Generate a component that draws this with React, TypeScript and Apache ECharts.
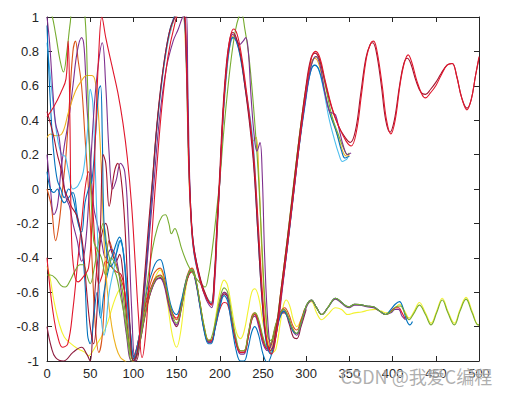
import React, { useEffect, useRef } from "react";
import * as echarts from "echarts";

// ---- axis settings ----
const xMin = 0, xMax = 500, xStep = 50;
const yMin = -1, yMax = 1, yStep = 0.2;
const watermark = "CSDN @我爱C编程";

// ---- series data: [x, y] points ----
const redFull: number[][] = [[0,0.42],[8,0.48],[16,0.56],[22,0.64],[24.5,0.86],[26.5,0.4],[28.5,-0.3],[32,-0.5],[36,-0.54],[42,-0.51],[48,-0.46],[52,-0.2],[56,0.3],[60,0.8],[63.5,1.0],[68,0.88],[75,0.72],[82,0.56],[88,0.38],[93,0.18],[98,-0.1],[102,-0.42],[106,-0.75],[110,-0.98],[114,-0.85],[118,-0.55],[123,-0.15],[127,0.12],[133,0.48],[140,0.77],[147,0.94],[153,1.02],[159,1.02],[161.5,0.7],[164,0.15],[166.5,-0.15],[170,-0.36],[178,-0.55],[185,-0.64],[190.5,-0.675],[194,-0.52],[197,-0.22],[200,0.05],[204,0.45],[208,0.72],[212,0.88],[216,0.93],[220,0.9],[225,0.78],[230,0.6],[235,0.4],[240,0.15],[245,-0.25],[250,-0.65],[255,-0.9],[260,-0.96],[266,-0.82],[272,-0.58],[279,-0.3],[286,0.0],[293,0.3],[300,0.58],[306,0.76],[311,0.8],[316,0.76],[322,0.63],[330,0.47],[338,0.36],[346,0.28],[352,0.25],[358,0.33],[364,0.55],[370,0.77],[375,0.85],[378,0.86],[382,0.8],[388,0.6],[393,0.4],[398,0.32],[403,0.4],[409,0.62],[414,0.74],[418,0.78],[422,0.74],[428,0.63],[434,0.55],[438,0.53],[444,0.56],[450,0.6],[456,0.66],[463,0.72],[469,0.73],[474,0.66],[480,0.53],[486,0.46],[491,0.52],[496,0.66],[500,0.77]];

const darkRedFull: number[][] = [[0,0.45],[4,0.38],[8,0.3],[12,0.2],[16,0.12],[20,0.0],[24,-0.05],[28,-0.1],[34,-0.15],[38,-0.22],[42,-0.35],[46,-0.6],[50,-0.8],[54,-0.9],[58,-0.7],[62,-0.2],[65,0.2],[68,0.15],[72,-0.1],[78,0.1],[82,0.15],[86,0.05],[90,-0.2],[95,-0.7],[100,-1.0],[104,-0.96],[108,-0.8],[113,-0.5],[118,-0.18],[122,0.05],[128,0.42],[135,0.72],[142,0.92],[148,1.0],[152,1.03],[157,1.03],[161,0.8],[164,0.2],[166.5,-0.12],[170,-0.34],[178,-0.53],[185,-0.63],[190,-0.67],[193.5,-0.52],[196.5,-0.22],[199.5,0.05],[203.5,0.45],[207.5,0.72],[211.5,0.87],[215,0.91],[219,0.88],[224,0.78],[229,0.6],[234,0.4],[239,0.15],[244,-0.25],[249,-0.65],[254,-0.88],[259,-0.94],[265,-0.82],[271,-0.58],[278,-0.3],[285,0.0],[292,0.3],[299,0.57],[305,0.75],[310,0.79],[315,0.76],[321,0.64],[329,0.48],[337,0.37],[345,0.3],[351,0.27],[357,0.34],[363,0.55],[369,0.76],[374,0.84],[377,0.85],[381,0.8],[387,0.6],[392,0.4],[397,0.33],[402,0.4],[408,0.6],[413,0.73],[417,0.76],[421,0.73],[427,0.63],[433,0.56],[438,0.55],[444,0.58],[450,0.62],[456,0.67],[463,0.72],[469,0.73],[474,0.66],[480,0.53],[486,0.47],[491,0.52],[496,0.66],[500,0.76]];

const purpleUp: number[][] = [[0,1.0],[3,0.85],[7,0.55],[10,0.38],[14,0.3],[18,0.1],[22,-0.05],[26,-0.1],[30,-0.2],[35,-0.3],[40,-0.42],[45,-0.3],[50,0.1],[55,0.5],[60,0.75],[64,0.85],[68,0.6],[72,0.2],[76,0.0],[80,0.05],[85,0.15],[90,0.1],[94,-0.2],[98,-0.7],[102,-1.0],[106,-0.9],[112,-0.65],[118,-0.3],[124,0.05],[130,0.4],[138,0.7],[146,0.86],[152,0.93],[157,1.0],[161,1.03],[163,0.6],[165.5,0.0],[169,-0.3],[177,-0.52],[184,-0.64],[190.5,-0.69],[194,-0.55],[197,-0.25],[200,0.05],[204,0.45],[208,0.72],[212,0.86],[215,0.9],[219,0.87],[223,0.84],[227,0.86],[230,0.88],[233,0.8],[236,0.55],[240,0.3],[243,0.22],[246.5,0.27],[249,0.1],[252,-0.4],[256,-0.8],[260,-0.93],[266,-0.83],[272,-0.6],[279,-0.3],[286,0.0],[293,0.3],[300,0.55],[306,0.72],[311,0.77],[316,0.72],[322,0.55],[327,0.45],[331,0.44],[334,0.43],[338,0.35],[343,0.25],[348,0.2],[352,0.21]];

const blueUp: number[][] = [[0,0.95],[2,0.7],[5,0.4],[8,0.2],[12,0.05],[16,0.0],[20,-0.05],[25,0.0],[30,-0.05],[36,-0.2],[40,-0.25],[44,-0.08],[48,0.0],[52,0.05],[56,0.3],[60,0.58],[62,0.6],[64,0.3],[66,-0.2],[70,-0.4],[74,-0.45],[80,-0.38],[85,-0.3],[89,-0.4],[93,-0.65],[97,-0.85],[101,-0.98],[105,-0.95],[110,-0.72],[116,-0.38],[121,-0.05],[127,0.35],[134,0.68],[141,0.9],[147,1.0],[151,1.03],[157,1.03],[161,0.8],[164,0.2],[166.5,-0.15],[170,-0.37],[178,-0.55],[185,-0.64],[190,-0.67],[194,-0.5],[197,-0.2],[200,0.05],[204,0.45],[208,0.7],[212,0.85],[215,0.88],[219,0.86],[224,0.76],[229,0.6],[234,0.42],[239,0.18],[244,-0.25],[249,-0.65],[254,-0.9],[259,-0.96],[265,-0.85],[271,-0.62],[278,-0.35],[285,-0.05],[292,0.25],[299,0.5],[305,0.68],[310,0.72],[315,0.69],[321,0.57],[328,0.43],[335,0.33],[341,0.22],[345,0.18],[350,0.19]];

const cyanUp: number[][] = [[0,0.85],[3,0.7],[7,0.5],[12,0.3],[17,0.2],[21,0.19],[25,0.1],[30,0.0],[36,0.02],[42,0.1],[47,0.35],[50,0.58],[53,0.5],[56,0.1],[59,-0.35],[62,-0.7],[66,-0.85],[72,-0.6],[78,-0.45],[84,-0.3],[88,-0.35],[92,-0.6],[96,-0.85],[101,-1.0],[105,-0.93],[110,-0.7],[116,-0.36],[121,-0.03],[127,0.35],[134,0.66],[141,0.88],[148,1.0],[153,1.03],[158,1.02],[161,0.75],[164,0.15],[167,-0.18],[171,-0.38],[179,-0.56],[185,-0.63],[190,-0.66],[194,-0.5],[197,-0.2],[200,0.05],[204,0.42],[208,0.68],[212,0.84],[216,0.88],[220,0.85],[225,0.74],[230,0.58],[235,0.42],[239,0.25],[243,-0.1],[248,-0.55],[253,-0.85],[258,-0.95],[264,-0.86],[270,-0.64],[277,-0.38],[284,-0.08],[291,0.22],[298,0.48],[304,0.66],[309,0.72],[314,0.7],[320,0.58],[326,0.42],[332,0.3],[338,0.2],[342,0.16],[346,0.17],[348,0.18]];

const oliveUp: number[][] = [[0,1.05],[5,1.02],[10,0.9],[15,0.75],[19,0.68],[23,0.8],[27,0.97],[30,1.05],[40,1.05],[44,1.0],[47,0.6],[50,0.1],[54,-0.3],[58,-0.35],[63,-0.4],[68,-0.5],[74,-0.4],[80,-0.45],[86,-0.55],[90,-0.7],[95,-0.9],[100,-1.0],[105,-0.95],[110,-0.78],[116,-0.55],[122,-0.35],[128,-0.22],[133,-0.16],[137,-0.15],[141,-0.2],[144,-0.26],[148,-0.23],[151,-0.26],[156,-0.35],[163,-0.44],[170,-0.5],[176,-0.54],[180,-0.56],[183,-0.57],[187,-0.5],[190,-0.4],[193,-0.28],[196,-0.14],[200,0.05],[204,0.3],[208,0.52],[213,0.75],[218,0.92],[222,1.0],[225,1.02],[229,0.93],[233,0.8],[237,0.6],[241,0.35],[245,0.05],[249,-0.35],[253,-0.7],[258,-0.88],[263,-0.86],[269,-0.66],[275,-0.42],[282,-0.12],[289,0.18],[296,0.46],[302,0.65],[308,0.75],[312,0.77],[317,0.72],[323,0.58],[330,0.42],[337,0.32],[343,0.24],[348,0.2],[350,0.21]];

const mustardUp: number[][] = [[0,0.3],[4,0.32],[10,0.31],[17,0.32],[25,0.45],[33,0.57],[40,0.63],[46,0.66],[52,0.66],[56,0.62],[60,0.4],[63,0.1],[66,-0.3],[70,-0.6],[75,-0.8],[80,-0.92],[85,-0.98],[90,-1.0],[95,-1.02],[100,-1.0],[104,-0.97],[109,-0.78],[115,-0.45],[120,-0.1],[126,0.3],[133,0.63],[140,0.86],[146,0.97],[150,1.02],[156,1.03],[160.5,0.8],[163.5,0.2],[166,-0.12],[170,-0.35],[178,-0.54],[185,-0.63],[190,-0.66],[194,-0.5],[197,-0.2],[200,0.05],[204,0.42],[208,0.68],[212,0.84],[216,0.89],[220,0.86],[225,0.75],[230,0.58],[235,0.4],[239,0.28],[242,0.3],[245,0.1],[249,-0.4],[254,-0.8],[259,-0.92],[265,-0.82],[271,-0.58],[278,-0.3],[285,0.0],[292,0.3],[299,0.55],[305,0.72],[310,0.76],[315,0.72],[321,0.58],[327,0.45],[333,0.36],[339,0.27],[344,0.2],[348,0.19],[350,0.2]];

const oliveLow: number[][] = [[0,-0.5],[4,-0.5],[10,-0.52],[16,-0.56],[21,-0.57],[27,-0.53],[33,-0.47],[38,-0.44],[42,-0.44],[46,-0.5],[50,-0.55],[55,-0.45],[60,-0.3],[65,-0.2],[70,-0.35],[75,-0.45],[80,-0.5],[85,-0.62],[90,-0.75],[94,-0.9],[98,-1.0],[101,-1.0],[106,-0.92],[112,-0.76],[118,-0.62],[124,-0.54],[128,-0.51],[131,-0.505],[135,-0.53],[140,-0.62],[145,-0.73],[150,-0.78],[155,-0.7],[160,-0.56],[164,-0.49],[168,-0.47],[172,-0.52],[177,-0.66],[182,-0.8],[187,-0.88],[190,-0.87],[195,-0.77],[200,-0.64],[205,-0.575],[209,-0.6],[214,-0.74],[219,-0.87],[224,-0.94],[228,-0.94],[233,-0.84],[237,-0.75],[241,-0.72],[245,-0.76],[250,-0.86],[255,-0.92],[259,-0.9],[264,-0.8],[269,-0.73],[274,-0.7],[279,-0.74],[284,-0.81],[289,-0.84],[294,-0.78],[300,-0.68],[306,-0.645],[312,-0.69],[318,-0.73],[325,-0.69],[330,-0.65],[334,-0.635],[340,-0.655],[346,-0.68],[350,-0.685],[356,-0.67],[362,-0.672],[370,-0.68],[378,-0.685],[385,-0.71],[392,-0.73],[399,-0.71],[404,-0.685],[409,-0.68],[414,-0.72],[419,-0.76],[425,-0.72],[431,-0.675],[438,-0.73],[444.5,-0.79],[451,-0.72],[457.5,-0.645],[464,-0.72],[471.5,-0.79],[478,-0.71],[485,-0.64],[492,-0.72],[499,-0.79],[500,-0.79]];

const yellowLow: number[][] = [[0,-0.45],[3,-0.5],[8,-0.65],[14,-0.78],[20,-0.86],[28,-0.9],[36,-0.93],[44,-0.95],[48,-0.97],[52,-0.95],[58,-0.9],[64,-0.85],[70,-0.78],[76,-0.68],[82,-0.6],[86,-0.58],[90,-0.65],[95,-0.85],[100,-0.98],[106,-0.92],[112,-0.78],[118,-0.64],[124,-0.53],[128,-0.485],[131,-0.47],[135,-0.52],[140,-0.68],[145,-0.85],[150,-0.92],[155,-0.82],[160,-0.6],[164,-0.5],[168,-0.47],[172,-0.52],[177,-0.66],[182,-0.8],[187,-0.88],[190,-0.88],[195,-0.75],[200,-0.6],[205,-0.53],[209,-0.56],[214,-0.7],[219,-0.83],[224,-0.87],[228,-0.83],[233,-0.7],[237,-0.6],[240.5,-0.58],[245,-0.63],[250,-0.78],[256,-0.9],[261,-0.95],[265,-0.93],[270,-0.78],[274,-0.67],[277,-0.645],[281,-0.68],[285,-0.76],[289,-0.8],[294,-0.76],[300,-0.68],[306,-0.655],[312,-0.72],[318,-0.76],[325,-0.73],[334,-0.69],[341,-0.7],[348,-0.73],[356,-0.72],[364,-0.715],[372,-0.705],[380,-0.7],[387,-0.71],[392,-0.72],[398,-0.71],[403,-0.69],[408,-0.67],[414,-0.71],[419,-0.75],[425,-0.71],[431,-0.66],[438,-0.72],[444.5,-0.78],[451,-0.71],[457.5,-0.635],[464,-0.71],[471.5,-0.78],[478,-0.7],[485,-0.63],[492,-0.71],[499,-0.79],[500,-0.79]];

const blueLow: number[][] = [[0,0.1],[4,0.0],[8,-0.02],[12,0.0],[16,-0.05],[20,-0.08],[25,-0.05],[30,-0.02],[35,-0.15],[40,-0.3],[44,-0.55],[47,-0.85],[50,-0.9],[54,-0.75],[58,-0.6],[62,-0.75],[66,-0.6],[72,-0.45],[78,-0.35],[84,-0.28],[88,-0.35],[92,-0.55],[96,-0.8],[100,-0.98],[105,-0.9],[111,-0.72],[117,-0.56],[123,-0.46],[127,-0.42],[131,-0.41],[135,-0.46],[140,-0.6],[145,-0.7],[150,-0.73],[155,-0.66],[160,-0.55],[164,-0.49],[168,-0.47],[172,-0.53],[177,-0.68],[182,-0.83],[187,-0.9],[190,-0.9],[195,-0.8],[200,-0.69],[205,-0.62],[209,-0.65],[214,-0.8],[219,-0.94],[224,-1.0],[228,-1.0],[233,-0.92],[237,-0.83],[240.5,-0.8],[245,-0.85],[250,-0.96],[255,-1.01],[260,-0.96],[265,-0.84],[270,-0.74],[274,-0.71],[279,-0.75],[284,-0.82],[289,-0.84],[294,-0.78],[300,-0.68],[306,-0.645],[312,-0.69],[318,-0.73],[325,-0.69],[334,-0.635],[340,-0.655],[346,-0.68],[350,-0.685],[356,-0.67],[362,-0.672],[370,-0.68],[378,-0.685],[385,-0.71],[392,-0.73],[398,-0.7],[403,-0.67],[408,-0.655],[412,-0.69],[416,-0.76],[420,-0.79],[423,-0.77]];

const redLow: number[][] = [[0,-0.4],[4,-0.6],[8,-0.75],[12,-0.85],[18,-0.92],[24,-0.9],[30,-0.7],[36,-0.4],[40,-0.2],[44,0.0],[48,0.1],[52,-0.05],[56,-0.35],[60,-0.55],[64,-0.5],[68,-0.42],[74,-0.45],[80,-0.48],[86,-0.5],[90,-0.6],[95,-0.8],[100,-0.97],[105,-0.9],[111,-0.75],[117,-0.62],[123,-0.54],[127,-0.51],[131,-0.5],[135,-0.53],[140,-0.63],[145,-0.72],[150,-0.75],[155,-0.68],[160,-0.56],[164,-0.5],[168,-0.48],[172,-0.53],[177,-0.67],[182,-0.81],[187,-0.88],[190,-0.88],[195,-0.8],[200,-0.7],[205,-0.66],[209,-0.67],[214,-0.78],[219,-0.9],[224,-0.95],[228,-0.95],[233,-0.86],[237,-0.76],[240.5,-0.73],[245,-0.78],[250,-0.88],[255,-0.93],[260,-0.89],[265,-0.79],[270,-0.72],[274,-0.7],[279,-0.74],[284,-0.81],[289,-0.84],[294,-0.78],[300,-0.68],[306,-0.645],[312,-0.69],[318,-0.73],[325,-0.69],[334,-0.635],[340,-0.655],[346,-0.68],[350,-0.685],[356,-0.67],[362,-0.672],[370,-0.68],[378,-0.685],[385,-0.71],[392,-0.73],[398,-0.71],[403,-0.69],[407,-0.69],[411,-0.72],[415,-0.75],[418,-0.75]];

const purpleLow: number[][] = [[0,0.2],[4,0.0],[8,-0.15],[12,-0.1],[16,0.1],[20,0.25],[25,0.4],[30,0.6],[35,0.8],[40,0.88],[43,0.82],[46,0.5],[50,0.2],[54,-0.1],[58,-0.2],[63,-0.3],[68,-0.4],[74,-0.35],[80,-0.4],[86,-0.6],[92,-0.85],[98,-1.0],[103,-0.98],[108,-0.88],[114,-0.72],[120,-0.6],[126,-0.53],[131,-0.52],[135,-0.55],[140,-0.66],[145,-0.76],[150,-0.79],[155,-0.7],[160,-0.57],[164,-0.5],[168,-0.48],[172,-0.54],[177,-0.68],[182,-0.82],[187,-0.89],[190,-0.89],[195,-0.79],[200,-0.66],[205,-0.6],[209,-0.62],[214,-0.76],[219,-0.9],[224,-0.96],[228,-0.96],[233,-0.86],[237,-0.76],[240.5,-0.74],[245,-0.8],[250,-0.9],[255,-0.94],[260,-0.9],[265,-0.8],[270,-0.74],[274,-0.71],[279,-0.75],[284,-0.82],[289,-0.85],[294,-0.79],[300,-0.69],[306,-0.65],[312,-0.69],[318,-0.73],[325,-0.69],[334,-0.64],[340,-0.66],[346,-0.685],[350,-0.69],[356,-0.675],[362,-0.675],[370,-0.685],[378,-0.69],[385,-0.71],[392,-0.73],[398,-0.72],[403,-0.7],[407,-0.7],[411,-0.74],[415,-0.76]];

const orangeLow: number[][] = [[0,0.0],[5,-0.1],[10,-0.3],[14,-0.2],[18,0.0],[22,0.2],[26,0.5],[30,0.8],[33,0.86],[36,0.75],[40,0.6],[44,0.3],[48,0.0],[52,-0.4],[56,-0.8],[60,-0.95],[64,-0.85],[68,-0.5],[72,-0.3],[78,-0.4],[84,-0.5],[90,-0.6],[96,-0.85],[100,-1.0],[105,-0.9],[111,-0.74],[117,-0.6],[123,-0.5],[127,-0.47],[131,-0.46],[135,-0.5],[140,-0.62],[145,-0.72],[150,-0.76],[155,-0.68],[160,-0.55],[164,-0.48],[168,-0.46],[172,-0.52],[177,-0.66],[182,-0.81],[187,-0.89],[190,-0.89],[195,-0.78],[200,-0.66],[205,-0.6],[209,-0.62],[214,-0.76],[219,-0.89],[224,-0.94],[228,-0.94],[233,-0.84],[237,-0.74],[240.5,-0.72],[245,-0.77],[250,-0.87],[255,-0.93],[260,-0.9],[265,-0.8],[270,-0.72],[275,-0.69],[280,-0.73],[285,-0.8],[289,-0.82],[294,-0.76],[298,-0.7]];

const maroonLow: number[][] = [[0,-0.8],[5,-0.92],[10,-0.98],[19,-1.0],[30,-0.95],[40,-0.92],[46,-0.96],[50,-1.0],[53,-0.8],[57,-0.5],[62,-0.3],[68,-0.2],[74,-0.35],[80,-0.42],[84,-0.38],[88,-0.5],[93,-0.8],[98,-0.98],[103,-1.0],[108,-0.88],[114,-0.72],[120,-0.6],[126,-0.53],[131,-0.515],[135,-0.54],[140,-0.64],[145,-0.75],[150,-0.8],[155,-0.71],[160,-0.57],[164,-0.5],[168,-0.48],[172,-0.53],[177,-0.67],[182,-0.82],[187,-0.89],[190,-0.89],[195,-0.79],[200,-0.67],[205,-0.61],[209,-0.63],[214,-0.76],[219,-0.89],[224,-0.95],[228,-0.95],[233,-0.85],[237,-0.75],[240.5,-0.73],[245,-0.78],[250,-0.88],[255,-0.93],[260,-0.89],[265,-0.79],[270,-0.72],[275,-0.72],[280,-0.78],[285,-0.86],[289,-0.87],[294,-0.8],[300,-0.7]];

const seriesList: { name: string; color: string; data: number[][] }[] = [
  { name: "yellowLow", color: "#F2F230", data: yellowLow },
  { name: "orangeLow", color: "#D95319", data: orangeLow },
  { name: "maroonLow", color: "#8E1B3E", data: maroonLow },
  { name: "purpleLow", color: "#7E2F8E", data: purpleLow },
  { name: "redLow", color: "#E0162B", data: redLow },
  { name: "blueLow", color: "#0072BD", data: blueLow },
  { name: "oliveLow", color: "#77AC30", data: oliveLow },
  { name: "mustardUp", color: "#EDB120", data: mustardUp },
  { name: "cyanUp", color: "#4DBEEE", data: cyanUp },
  { name: "blueUp", color: "#0072BD", data: blueUp },
  { name: "oliveUp", color: "#77AC30", data: oliveUp },
  { name: "purpleUp", color: "#7E2F8E", data: purpleUp },
  { name: "darkRedFull", color: "#A2142F", data: darkRedFull },
  { name: "redFull", color: "#E0162B", data: redFull },
];

const axisColor = "#262626";
const fontFamily = "'Liberation Sans', Arial, sans-serif";

export default function App() {
  const ref = useRef<HTMLDivElement>(null);
  useEffect(() => {
    if (!ref.current) return;
    const chart = echarts.init(ref.current, undefined, { renderer: "svg" });
    const baseX = {
      type: "value" as const,
      min: xMin,
      max: xMax,
      interval: xStep,
      splitLine: { show: false },
      axisLine: { show: true, onZero: false, lineStyle: { color: axisColor, width: 1 } },
      axisTick: { show: true, inside: true, length: 5, lineStyle: { color: axisColor } },
    };
    const baseY = {
      type: "value" as const,
      min: yMin,
      max: yMax,
      interval: yStep,
      splitLine: { show: false },
      axisLine: { show: true, onZero: false, lineStyle: { color: axisColor, width: 1 } },
      axisTick: { show: true, inside: true, length: 5, lineStyle: { color: axisColor } },
    };
    chart.setOption({
      animation: false,
      backgroundColor: "#ffffff",
      grid: { left: 47, right: 36, top: 17, bottom: 34, containLabel: false },
      xAxis: [
        { ...baseX, position: "bottom", axisLabel: { color: axisColor, fontSize: 13, fontFamily, margin: 6 } },
        { ...baseX, position: "top", axisLabel: { show: false } },
      ],
      yAxis: [
        {
          ...baseY,
          position: "left",
          axisLabel: {
            color: axisColor,
            fontSize: 13,
            fontFamily,
            margin: 8,
            formatter: (v: number) => String(Math.round(v * 10) / 10),
          },
        },
        { ...baseY, position: "right", axisLabel: { show: false } },
      ],
      series: seriesList.map((s) => ({
        name: s.name,
        type: "line",
        xAxisIndex: 0,
        yAxisIndex: 0,
        data: s.data,
        smooth: 0.4,
        symbol: "none",
        showSymbol: false,
        clip: true,
        silent: true,
        lineStyle: { color: s.color, width: 1.1 },
        emphasis: { disabled: true },
      })),
      graphic: [
        {
          type: "text",
          left: 340,
          top: 366,
          silent: true,
          z: 100,
          style: {
            text: watermark,
            fontSize: 18,
            fontFamily: "'Noto Sans CJK SC', sans-serif",
            fill: "rgba(140,140,140,0.7)",
            stroke: "rgba(255,255,255,0.6)",
            lineWidth: 1,
          },
        },
      ],
    });
    return () => chart.dispose();
  }, []);
  return (
    <div
      ref={ref}
      style={{ position: "fixed", left: 0, top: 0, width: 515, height: 395, background: "#fff" }}
    />
  );
}
